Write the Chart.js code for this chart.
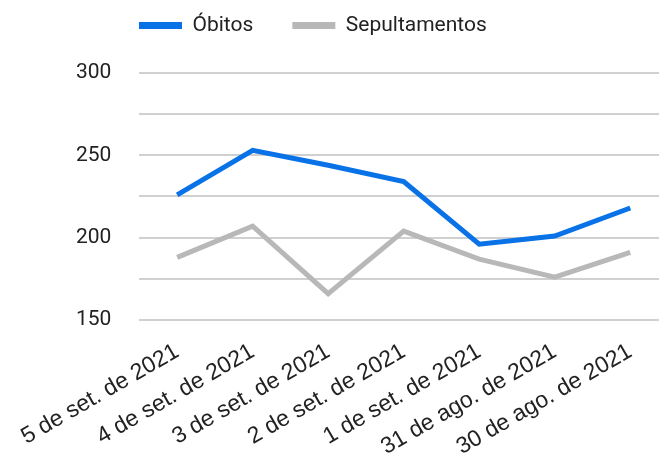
<!DOCTYPE html>
<html>
<head>
<meta charset="utf-8">
<script src="https://cdn.jsdelivr.net/npm/chart.js@4"></script>
<style>
  html, body { margin: 0; padding: 0; background: #fff; overflow: hidden; }
  #wrap { width: 668px; height: 471px; }
</style>
</head>
<body>
<div id="wrap"><canvas id="grafica"></canvas></div>
<script>
const categorias = ['5 de set. de 2021', '4 de set. de 2021', '3 de set. de 2021', '2 de set. de 2021', '1 de set. de 2021', '31 de ago. de 2021', '30 de ago. de 2021'];
const obitos = [226, 253, 244, 234, 196, 201, 218];
const sepultamentos = [188, 207, 166, 204, 187, 176, 191];

const fuente = 'Roboto, "Noto Sans", sans-serif';
const fuenteEje = '"Liberation Sans", Arial, sans-serif';

// mueve la leyenda arriba a la izquierda como en la imagen
const moverLeyenda = {
    id: 'moverLeyenda',
    afterLayout(chart) {
        const l = chart.legend;
        const dx = 52, dy = -27;
        l.left += dx; l.right += dx;
        l.top += dy; l.bottom += dy;
    }
};

new Chart(document.getElementById('grafica'), {
    type: 'line',
    data: {
        labels: categorias,
        datasets: [
            {
                label: 'Óbitos',
                data: obitos,
                borderColor: '#0872e6',
                backgroundColor: '#0872e6',
                borderWidth: 5,
                pointRadius: 0,
                tension: 0
            },
            {
                label: 'Sepultamentos',
                data: sepultamentos,
                borderColor: '#b8b8b8',
                backgroundColor: '#b8b8b8',
                borderWidth: 5,
                pointRadius: 0,
                tension: 0
            }
        ]
    },
    plugins: [moverLeyenda],
    options: {
        responsive: true,
        maintainAspectRatio: false,
        animation: false,
        layout: { padding: { left: 48, right: 0, top: 3, bottom: 0 } },
        plugins: {
            tooltip: { enabled: false },
            legend: {
                position: 'top',
                align: 'start',
                labels: {
                    color: '#222',
                    font: { family: fuente, size: 21 },
                    boxWidth: 43,
                    boxHeight: 7,
                    padding: 39,
                    generateLabels: (chart) => chart.data.datasets.map((d, i) => ({
                        text: d.label,
                        fillStyle: d.borderColor,
                        strokeStyle: d.borderColor,
                        lineWidth: 0,
                        datasetIndex: i,
                        fontColor: '#222'
                    }))
                }
            }
        },
        scales: {
            x: {
                offset: true,
                grid: { display: false },
                border: { display: false },
                ticks: {
                    color: '#222',
                    font: { family: fuenteEje, size: 23 },
                    minRotation: 30,
                    maxRotation: 30,
                    padding: 10
                }
            },
            y: {
                min: 150,
                max: 300,
                grid: { color: '#d0d0d0', lineWidth: 2, drawTicks: false },
                border: { display: false },
                ticks: {
                    stepSize: 25,
                    color: '#222',
                    font: { family: fuente, size: 21 },
                    padding: 28,
                    callback: (v) => v % 50 === 0 ? v : ''
                }
            }
        }
    }
});
</script>
</body>
</html>
